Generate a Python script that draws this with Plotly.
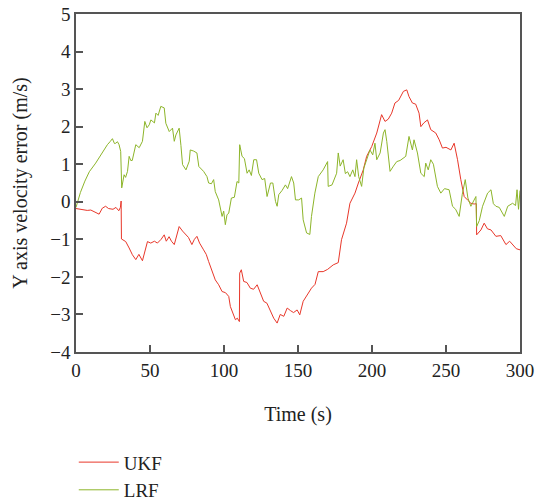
import plotly.graph_objects as go

ukf_t = [0, 3, 7.6, 10, 12.2, 15.6, 17.8, 20, 22, 25, 27, 28.9, 30, 30.5, 30.7, 32, 33.6, 35.9, 38.1,
         40.4, 42.5, 44.9, 47.2, 48.3, 50.5, 53, 55, 57.5, 59.6, 61, 62.9, 64.5, 66.4, 68, 69.7, 72,
         74.3, 76, 78.3, 80, 81.7, 83.5, 86.2, 88, 89.6, 91.9, 94.1, 96.4, 98.7, 101, 103.2, 104.3,
         106.5, 107.7, 109, 110.4, 110.6, 111.7, 113.3, 115.5, 117.8, 120, 122.4, 124.5, 126.8, 129,
         131.4, 133.6, 135.9, 138, 140.4, 142.7, 145, 147, 149.4, 151.2, 153.5, 156.9, 159.1, 161.5,
         163.7, 167, 170, 173.8, 177.2, 179.4, 182.8, 185.1, 188.5, 190.8, 194.1, 196.4, 199.8, 203.2,
         206.5, 208.8, 211, 213.3, 215.5, 218, 221.2, 223.5, 225, 227.3, 229.5, 231.8, 233, 235, 237.5,
         239.7, 243.1, 245.4, 247.6, 250, 253.3, 255.5, 257.8, 260, 262.3, 264.5, 266.8, 269, 270.5,
         270.7, 273.6, 275.8, 278, 280.4, 283.7, 287, 290.5, 293, 295.5, 297.5, 300]
ukf_v = [-0.18, -0.2, -0.23, -0.22, -0.26, -0.33, -0.17, -0.12, -0.18, -0.2, -0.15, -0.24, -0.15, 0.02,
         -0.99, -1.02, -1.06, -1.23, -1.41, -1.54, -1.4, -1.57, -1.23, -1.06, -1.1, -1.05, -1.1, -1.0,
         -0.88, -1.05, -0.93, -1.05, -1.14, -0.9, -0.66, -0.78, -0.88, -0.95, -1.14, -1.0, -0.92, -1.1,
         -1.28, -1.4, -1.59, -1.86, -2.08, -2.21, -2.39, -2.42, -2.52, -2.79, -3.05, -3.14, -3.1, -3.19,
         -1.9, -1.81, -2.12, -2.15, -2.3, -2.33, -2.21, -2.4, -2.65, -2.7, -2.92, -3.1, -3.23, -3.0,
         -3.05, -2.83, -2.9, -2.95, -2.88, -3.01, -2.65, -2.43, -2.3, -2.2, -1.86, -1.86, -1.8, -1.68,
         -1.62, -1.01, -0.57, -0.04, 0.23, 0.5, 0.85, 1.21, 1.47, 1.83, 2.32, 2.14, 2.2, 2.36, 2.63,
         2.7, 2.94, 2.98, 2.8, 2.63, 2.6, 2.36, 2.0, 2.1, 2.18, 1.92, 1.83, 1.65, 1.43, 1.45, 1.38,
         1.56, 1.12, 0.59, 0.14, 0.05, -0.04, -0.06, -0.05, -0.88, -0.75, -0.57, -0.72, -0.75, -0.92,
         -0.9, -1.14, -1.05, -1.15, -1.25, -1.28]

lrf_t = [0, 3, 6, 9, 13.3, 16, 19, 21.2, 23, 24.6, 26, 26.9, 28, 29.1, 30.2, 30.9, 32.5, 33.5, 34.8,
         35.9, 37, 38, 40.4, 42.7, 44.9, 46.5, 48, 49.5, 50.6, 53, 54, 55.5, 57.3, 59.6, 60.7, 63,
         65.2, 66.4, 67.5, 69.7, 70.9, 72, 74.3, 76.5, 77.2, 79.5, 81.7, 83, 86.2, 88.5, 89.6, 91.5,
         93, 94.1, 96.4, 97.5, 98.7, 99.8, 100.9, 102, 103.2, 105, 107, 108.8, 110, 110.6, 112.2,
         113.8, 115.6, 117, 118.5, 120.1, 122, 123.5, 125.7, 127.5, 129.1, 131.4, 133, 134.8, 135.9,
         137, 139.2, 141.5, 143, 145.6, 147.1, 148.3, 150.5, 152.4, 153.5, 155.8, 158, 159.1, 161.4,
         163.7, 167, 170, 170.4, 173, 176.1, 177.2, 178.5, 180.5, 182, 183.5, 185.1, 187, 188.5,
         189.6, 191, 193, 194.5, 196.4, 198.6, 200.5, 202, 203.2, 205.5, 207.7, 208.8, 210, 211,
         212.2, 214.5, 216.7, 219, 221, 222.8, 225, 227.3, 228.4, 230.7, 233, 235.3, 236.3, 238,
         239.7, 241.5, 244.2, 246.5, 249, 252.1, 254.4, 256.5, 258.9, 261, 263, 264.8, 266.8, 270.2,
         270.7, 272.5, 274.7, 278.1, 280.4, 282, 283.7, 286, 289.4, 291.7, 295, 297, 298, 299, 300]
lrf_v = [-0.15, 0.25, 0.55, 0.8, 1.03, 1.2, 1.38, 1.52, 1.6, 1.68, 1.55, 1.56, 1.6, 1.52, 1.34, 0.37,
         0.72, 0.65, 0.81, 1.21, 1.1, 1.1, 1.52, 1.44, 1.61, 2.14, 1.97, 2.05, 2.18, 2.1, 2.36, 2.3,
         2.54, 2.5, 2.09, 1.87, 1.96, 1.61, 1.78, 1.96, 1.5, 0.99, 0.85, 1.08, 1.38, 1.35, 1.3, 0.94,
         0.81, 0.67, 0.5, 0.48, 0.59, 0.27, 0.05, -0.21, -0.39, -0.25, -0.61, -0.35, -0.3, 0.1, 0.12,
         0.54, 0.5, 1.52, 1.21, 1.15, 0.76, 0.85, 0.7, 1.12, 1.12, 0.76, 0.59, 0.62, 0.14, 0.5, 0.5,
         0.01, -0.12, 0.19, 0.3, 0.45, 0.35, 0.67, 0.5, 0.05, 0.05, 0.1, -0.48, -0.83, -0.87, -0.39,
         0.23, 0.67, 0.85, 1.07, 0.41, 0.45, 0.76, 1.3, 0.95, 1.12, 0.75, 0.8, 0.67, 0.85, 0.67, 1.12,
         0.67, 0.41, 0.9, 1.12, 1.38, 1.25, 1.56, 1.12, 1.3, 1.83, 1.92, 1.6, 1.2, 0.81, 0.95, 1.07,
         1.1, 1.15, 1.21, 1.74, 1.38, 1.65, 1.3, 0.76, 0.67, 1.03, 0.85, 1.12, 1.0, 0.41, 0.23, 0.35,
         0.32, -0.12, -0.2, -0.39, 0.2, 0.59, 0.1, -0.12, 0.14, -0.66, -0.5, -0.12, 0.23, 0.32, -0.05,
         -0.12, -0.15, -0.39, -0.12, -0.04, -0.1, 0.32, -0.2, 0.3]

x_ticks = [0, 50, 100, 150, 200, 250, 300]
y_ticks = [-4, -3, -2, -1, 0, 1, 2, 3, 4, 5]
y_tick_text = ["\u22124", "\u22123", "\u22122", "\u22121", "0", "1", "2", "3", "4", "5"]

FONT = "Liberation Serif"
fig = go.Figure()
fig.add_trace(go.Scatter(x=ukf_t, y=ukf_v, mode="lines", name="UKF",
                         line=dict(color="#e8372a", width=1)))
fig.add_trace(go.Scatter(x=lrf_t, y=lrf_v, mode="lines", name="LRF",
                         line=dict(color="#8db52a", width=1)))

axis_common = dict(showgrid=False, zeroline=False, showline=True, linecolor="#555555",
                   linewidth=1.5, mirror=True, ticks="inside", ticklen=7, tickwidth=1.5,
                   tickcolor="#555555", tickfont=dict(family=FONT, size=19, color="#222222"))
fig.update_xaxes(range=[0, 300], tickvals=x_ticks, title=dict(text="Time (s)", standoff=27,
                 font=dict(family=FONT, size=20, color="#222222")), **axis_common)
fig.update_yaxes(range=[-4, 5], tickvals=y_ticks, ticktext=y_tick_text,
                 title=dict(text="Y axis velocity error (m/s)", standoff=17,
                            font=dict(family=FONT, size=20, color="#222222")), **axis_common)

fig.update_layout(width=537, height=502, margin=dict(l=76, r=17, t=14, b=150, autoexpand=False),
                  plot_bgcolor="white", paper_bgcolor="white",
                  showlegend=True,
                  legend=dict(x=-0.005, y=-0.27, xanchor="left", yanchor="top",
                              orientation="v", font=dict(family=FONT, size=19, color="#222222"),
                              tracegroupgap=0, itemwidth=40, bgcolor="rgba(0,0,0,0)"))
fig.write_html("out.html")
